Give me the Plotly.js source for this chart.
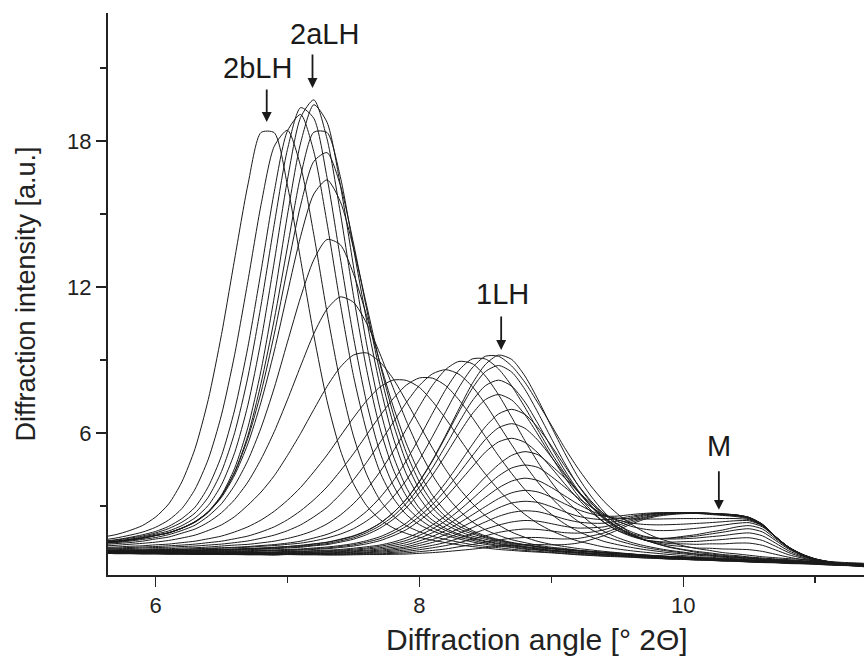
<!DOCTYPE html>
<html><head><meta charset="utf-8">
<script src="https://cdn.plot.ly/plotly-3.0.1.min.js"></script>
<style>html,body{margin:0;padding:0;background:#fff}#chart{width:864px;height:658px}</style>
</head><body><div id="chart"></div>
<script>
// Diffraction angle grid [deg 2Theta]
const angle = [5.6,5.7,5.8,5.9,6.0,6.1,6.2,6.3,6.4,6.5,6.6,6.7,6.8,6.9,7.0,7.1,7.2,7.3,7.4,7.5,7.6,7.7,7.8,7.9,8.0,8.1,8.2,8.3,8.4,8.5,8.6,8.7,8.8,8.9,9.0,9.1,9.2,9.3,9.4,9.5,9.6,9.7,9.8,9.9,10.0,10.1,10.2,10.3,10.4,10.5,10.6,10.7,10.8,10.9,11.0,11.1,11.2,11.3,11.4];

// 2bLH -> 2aLH stage
const scan01 = [1.72,1.82,1.98,2.19,2.54,3.08,3.99,5.36,7.37,10.04,13.15,16.19,18.35,18.34, 16.18,13.12,10.01,7.32,5.31,3.92,3.01,2.45,2.10,1.87, 1.71,1.59,1.49,1.40,1.33,1.27,1.21,1.17,1.13,1.10, 1.07,1.03,0.99,0.96,0.93,0.91,0.89,0.86,0.84,0.81, 0.80,0.77,0.76,0.73,0.72,0.69,0.67,0.66,0.63,0.62, 0.60,0.57,0.55,0.54,0.52];
const scan02 = [1.60,1.68,1.79,1.92,2.12,2.42,2.89,3.69,4.92,6.74,9.22,12.23,15.38,17.78, 18.44,16.96,14.15,10.95,8.11,5.88,4.30,3.25,2.60,2.19, 1.94,1.75,1.62,1.51,1.41,1.34,1.28,1.22,1.17,1.13, 1.09,1.05,1.01,0.98,0.95,0.93,0.90,0.87,0.85,0.82, 0.81,0.78,0.77,0.74,0.73,0.70,0.68,0.67,0.64,0.63, 0.61,0.58,0.56,0.55,0.53];
const scan03 = [1.55,1.61,1.70,1.81,1.95,2.16,2.48,2.95,3.79,5.06,6.95,9.52,12.65,15.91, 18.41,19.09,17.56,14.63,11.33,8.36,6.07,4.41,3.34,2.65, 2.23,1.97,1.78,1.64,1.52,1.42,1.35,1.29,1.22,1.18, 1.13,1.09,1.05,1.01,0.98,0.95,0.92,0.89,0.87,0.84, 0.82,0.80,0.78,0.75,0.74,0.71,0.69,0.68,0.65,0.64, 0.62,0.59,0.57,0.56,0.54];
const scan04 = [1.52,1.59,1.67,1.76,1.89,2.07,2.33,2.71,3.36,4.41,6.01,8.29,11.25,14.57, 17.65,19.37,18.93,16.50,13.21,9.96,7.25,5.23,3.87,2.98, 2.46,2.10,1.87,1.71,1.59,1.47,1.38,1.32,1.25,1.20, 1.15,1.11,1.07,1.03,1.00,0.97,0.94,0.91,0.88,0.85, 0.83,0.81,0.79,0.76,0.75,0.72,0.70,0.69,0.66,0.65, 0.63,0.60,0.58,0.57,0.55];
const scan05 = [1.51,1.56,1.63,1.72,1.84,1.97,2.19,2.51,3.02,3.87,5.19,7.14,9.80,13.03, 16.40,18.97,19.69,18.09,15.08,11.66,8.61,6.22,4.53,3.41, 2.71,2.27,1.99,1.79,1.65,1.53,1.43,1.36,1.29,1.23, 1.18,1.13,1.09,1.05,1.02,0.99,0.96,0.93,0.90,0.87, 0.85,0.82,0.80,0.77,0.76,0.73,0.71,0.70,0.67,0.66, 0.64,0.61,0.59,0.58,0.56];
const scan06 = [1.49,1.53,1.59,1.67,1.78,1.90,2.09,2.34,2.77,3.45,4.55,6.22,8.57,11.58, 14.95,17.92,19.49,18.77,16.22,12.87,9.66,7.03,5.09,3.77, 2.91,2.41,2.07,1.84,1.69,1.56,1.46,1.37,1.31,1.24, 1.18,1.14,1.10,1.06,1.02,0.99,0.96,0.93,0.90,0.87, 0.85,0.82,0.80,0.77,0.76,0.73,0.71,0.70,0.67,0.66, 0.64,0.61,0.59,0.58,0.56];
const scan07 = [1.48,1.52,1.59,1.67,1.78,1.89,2.08,2.33,2.73,3.41,4.40,5.89,8.04,10.66, 13.64,16.56,18.36,18.35,16.55,13.61,10.63,7.99,5.84,4.33, 3.34,2.64,2.23,1.96,1.76,1.63,1.51,1.41,1.33,1.27, 1.23,1.18,1.14,1.10,1.06,1.03,1.00,0.96,0.93,0.90, 0.88,0.85,0.83,0.80,0.78,0.75,0.73,0.72,0.69,0.68, 0.66,0.63,0.61,0.60,0.58];
const scan08 = [1.49,1.53,1.61,1.69,1.79,1.89,2.09,2.35,2.76,3.40,4.37,5.78,7.67,10.06, 12.76,15.36,17.16,17.52,16.20,13.81,11.10,8.53,6.42,4.81, 3.68,2.91,2.40,2.06,1.85,1.69,1.56,1.45,1.39,1.31, 1.25,1.20,1.16,1.12,1.08,1.05,1.02,0.98,0.95,0.92, 0.90,0.87,0.85,0.82,0.80,0.77,0.75,0.73,0.70,0.69, 0.67,0.64,0.62,0.61,0.59];
const scan09 = [1.49,1.54,1.60,1.67,1.78,1.90,2.08,2.36,2.75,3.35,4.27,5.55,7.27,9.36, 11.75,14.08,15.82,16.40,15.52,13.62,11.25,8.87,6.83,5.20, 3.99,3.13,2.55,2.17,1.92,1.73,1.59,1.48,1.40,1.32, 1.26,1.21,1.17,1.13,1.09,1.06,1.02,0.98,0.95,0.92, 0.90,0.87,0.85,0.82,0.80,0.77,0.75,0.73,0.70,0.69, 0.67,0.64,0.62,0.61,0.59];
const scan10 = [1.46,1.49,1.55,1.62,1.70,1.82,1.99,2.21,2.58,3.09,3.85,4.87,6.21,7.85, 9.73,11.58,13.12,13.95,13.74,12.55,10.82,8.92,7.12,5.58, 4.35,3.43,2.77,2.31,1.99,1.77,1.62,1.50,1.41,1.33, 1.26,1.21,1.16,1.12,1.08,1.05,1.01,0.97,0.94,0.91, 0.89,0.86,0.84,0.81,0.79,0.76,0.74,0.72,0.69,0.68, 0.66,0.63,0.61,0.60,0.58];

// transition 2aLH -> 1LH
const scan11 = [1.41,1.45,1.49,1.55,1.64,1.72,1.88,2.05,2.33,2.72,3.26,3.98,4.92,6.05, 7.36,8.75,10.08,11.09,11.59,11.37,10.51,9.27,7.87,6.51, 5.29,4.26,3.45,2.82,2.35,2.02,1.79,1.61,1.49,1.38, 1.30,1.25,1.18,1.13,1.08,1.04,1.01,0.96,0.93,0.90, 0.87,0.84,0.82,0.79,0.77,0.74,0.71,0.69,0.67,0.65, 0.62,0.60,0.57,0.56,0.53];
const scan12 = [1.35,1.38,1.42,1.46,1.51,1.58,1.68,1.80,1.99,2.22,2.56,3.03,3.57,4.24, 5.07,5.98,6.96,7.91,8.70,9.20,9.29,8.92,8.24,7.31, 6.34,5.37,4.49,3.73,3.11,2.60,2.22,1.92,1.71,1.54, 1.42,1.33,1.25,1.19,1.13,1.08,1.03,0.99,0.95,0.92, 0.89,0.86,0.84,0.81,0.79,0.76,0.73,0.71,0.69,0.67, 0.64,0.62,0.59,0.58,0.55];
const scan13 = [1.29,1.31,1.34,1.36,1.40,1.43,1.49,1.55,1.65,1.76,1.93,2.14,2.42,2.78, 3.23,3.76,4.40,5.09,5.86,6.62,7.32,7.88,8.17,8.16, 7.87,7.29,6.58,5.80,5.02,4.31,3.66,3.11,2.65,2.27, 1.98,1.75,1.56,1.43,1.31,1.23,1.16,1.10,1.05,1.00, 0.96,0.91,0.89,0.85,0.83,0.79,0.76,0.74,0.71,0.69, 0.66,0.63,0.60,0.59,0.56];
const scan14 = [1.26,1.27,1.29,1.31,1.33,1.36,1.39,1.43,1.49,1.55,1.65,1.76,1.93,2.14, 2.43,2.80,3.25,3.78,4.43,5.14,5.92,6.69,7.40,7.96, 8.26,8.25,7.94,7.36,6.64,5.85,5.06,4.33,3.67,3.12, 2.66,2.27,1.96,1.73,1.54,1.41,1.30,1.21,1.14,1.07, 1.03,0.97,0.94,0.89,0.86,0.82,0.79,0.76,0.73,0.71, 0.68,0.65,0.62,0.60,0.57];
const scan15 = [1.24,1.24,1.25,1.27,1.29,1.30,1.33,1.35,1.39,1.43,1.49,1.56,1.67,1.80, 1.98,2.22,2.55,2.94,3.47,4.07,4.79,5.59,6.42,7.24, 7.95,8.43,8.60,8.41,7.91,7.19,6.35,5.51,4.69,3.96, 3.34,2.80,2.38,2.04,1.77,1.58,1.43,1.30,1.21,1.13, 1.07,1.01,0.97,0.92,0.89,0.85,0.80,0.78,0.75,0.72, 0.69,0.66,0.63,0.61,0.58];
const scan16 = [1.20,1.20,1.22,1.22,1.24,1.24,1.27,1.28,1.31,1.35,1.39,1.42,1.48,1.55, 1.66,1.80,1.99,2.26,2.62,3.09,3.68,4.39,5.23,6.14, 7.09,7.96,8.61,8.94,8.85,8.34,7.57,6.64,5.68,4.78, 3.98,3.30,2.76,2.30,1.95,1.70,1.51,1.37,1.26,1.17, 1.10,1.03,0.99,0.93,0.89,0.85,0.81,0.78,0.74,0.72, 0.69,0.66,0.63,0.61,0.58];
const scan17 = [1.18,1.18,1.19,1.19,1.21,1.21,1.22,1.24,1.26,1.28,1.30,1.33,1.37,1.41, 1.47,1.55,1.68,1.83,2.05,2.36,2.78,3.33,4.01,4.85, 5.80,6.81,7.79,8.58,9.04,9.04,8.63,7.93,7.05,6.11, 5.18,4.35,3.62,3.02,2.52,2.13,1.84,1.61,1.45,1.31, 1.21,1.13,1.07,1.00,0.96,0.90,0.86,0.82,0.79,0.75, 0.73,0.69,0.65,0.63,0.61];
const scan18 = [1.17,1.17,1.18,1.18,1.20,1.20,1.21,1.22,1.24,1.26,1.28,1.30,1.34,1.37, 1.42,1.47,1.56,1.68,1.84,2.06,2.38,2.80,3.36,4.05, 4.90,5.86,6.88,7.87,8.67,9.15,9.15,8.75,8.08,7.22, 6.32,5.40,4.56,3.82,3.18,2.68,2.27,1.94,1.69,1.52, 1.36,1.25,1.17,1.08,1.03,0.97,0.91,0.87,0.83,0.80, 0.75,0.72,0.68,0.66,0.63];
const scan19 = [1.15,1.15,1.16,1.16,1.17,1.17,1.18,1.18,1.20,1.21,1.23,1.25,1.27,1.30, 1.33,1.38,1.44,1.51,1.63,1.77,1.98,2.28,2.71,3.27, 4.01,4.89,5.91,6.99,8.02,8.81,9.20,9.02,8.34,7.36, 6.26,5.19,4.21,3.41,2.75,2.26,1.89,1.62,1.44,1.29, 1.19,1.09,1.03,0.97,0.92,0.88,0.83,0.80,0.76,0.73, 0.70,0.66,0.63,0.61,0.58];

// 1LH -> M stage
const scan20 = [1.15,1.15,1.16,1.15,1.16,1.16,1.18,1.18,1.20,1.20,1.22,1.24,1.26,1.29, 1.33,1.36,1.43,1.50,1.61,1.75,1.97,2.28,2.71,3.27, 3.99,4.86,5.85,6.87,7.82,8.52,8.77,8.50,7.79,6.82, 5.78,4.77,3.87,3.15,2.56,2.14,1.82,1.61,1.48,1.38, 1.33,1.27,1.26,1.23,1.22,1.20,1.13,1.01,0.89,0.80, 0.74,0.67,0.63,0.61,0.58];
const scan21 = [1.14,1.14,1.15,1.14,1.15,1.15,1.16,1.17,1.18,1.19,1.20,1.22,1.24,1.26, 1.30,1.33,1.39,1.45,1.56,1.69,1.90,2.18,2.57,3.10, 3.77,4.57,5.48,6.43,7.31,7.94,8.17,7.92,7.27,6.37, 5.41,4.48,3.66,2.99,2.45,2.07,1.80,1.61,1.52,1.45, 1.44,1.42,1.44,1.44,1.47,1.47,1.38,1.19,0.99,0.86, 0.75,0.69,0.64,0.61,0.58];
const scan22 = [1.13,1.13,1.14,1.13,1.14,1.14,1.15,1.15,1.17,1.17,1.18,1.20,1.22,1.24, 1.27,1.30,1.36,1.41,1.51,1.63,1.82,2.08,2.44,2.92, 3.54,4.27,5.10,5.97,6.78,7.37,7.58,7.35,6.75,5.92, 5.03,4.19,3.44,2.83,2.33,1.99,1.76,1.61,1.54,1.51, 1.53,1.54,1.58,1.62,1.67,1.69,1.58,1.34,1.08,0.90, 0.78,0.69,0.64,0.60,0.57];
const scan23 = [1.12,1.11,1.12,1.12,1.12,1.12,1.13,1.13,1.14,1.14,1.15,1.16,1.18,1.19, 1.21,1.23,1.27,1.31,1.37,1.45,1.57,1.73,1.97,2.29, 2.75,3.29,3.96,4.72,5.51,6.25,6.78,6.97,6.76,6.21, 5.47,4.66,3.88,3.21,2.66,2.23,1.95,1.76,1.67,1.64, 1.65,1.68,1.73,1.78,1.85,1.89,1.77,1.47,1.15,0.94, 0.80,0.71,0.64,0.61,0.57];
const scan24 = [1.11,1.10,1.11,1.11,1.11,1.11,1.11,1.12,1.13,1.13,1.14,1.14,1.16,1.17, 1.19,1.21,1.24,1.27,1.33,1.40,1.51,1.65,1.87,2.16, 2.57,3.06,3.66,4.34,5.05,5.73,6.21,6.38,6.19,5.69, 5.01,4.29,3.59,2.99,2.49,2.12,1.88,1.73,1.67,1.67, 1.71,1.76,1.84,1.92,2.01,2.06,1.93,1.58,1.22,0.98, 0.82,0.71,0.63,0.60,0.56];
const scan25 = [1.10,1.10,1.10,1.10,1.10,1.10,1.10,1.10,1.11,1.11,1.12,1.12,1.14,1.15, 1.17,1.18,1.21,1.24,1.29,1.35,1.44,1.57,1.77,2.02, 2.39,2.83,3.36,3.97,4.60,5.21,5.63,5.78,5.61,5.17, 4.57,3.92,3.30,2.76,2.32,2.00,1.80,1.68,1.65,1.68, 1.75,1.82,1.92,2.01,2.13,2.19,2.05,1.65,1.26,0.99, 0.82,0.70,0.63,0.60,0.55];
const scan26 = [1.09,1.09,1.09,1.08,1.09,1.08,1.09,1.08,1.09,1.09,1.10,1.10,1.10,1.11, 1.13,1.14,1.16,1.18,1.21,1.26,1.32,1.39,1.51,1.68, 1.91,2.22,2.60,3.08,3.62,4.19,4.70,5.08,5.23,5.10, 4.66,4.16,3.61,3.11,2.68,2.38,2.17,2.05,1.99,1.99, 2.03,2.08,2.14,2.21,2.28,2.31,2.14,1.72,1.30,1.02, 0.83,0.71,0.63,0.59,0.55];
const scan27 = [1.09,1.08,1.08,1.08,1.08,1.07,1.08,1.07,1.08,1.08,1.08,1.08,1.09,1.09, 1.12,1.12,1.14,1.15,1.18,1.22,1.27,1.34,1.44,1.58, 1.79,2.06,2.39,2.81,3.28,3.77,4.23,4.56,4.68,4.58, 4.21,3.78,3.34,2.96,2.63,2.43,2.30,2.24,2.22,2.23, 2.25,2.28,2.31,2.35,2.39,2.39,2.18,1.73,1.30,1.02, 0.82,0.71,0.63,0.58,0.55];
const scan28 = [1.08,1.07,1.07,1.07,1.07,1.06,1.07,1.06,1.07,1.06,1.07,1.07,1.07,1.08, 1.10,1.10,1.11,1.12,1.15,1.18,1.23,1.28,1.37,1.49, 1.67,1.90,2.18,2.53,2.93,3.35,3.74,4.02,4.14,4.04, 3.76,3.42,3.08,2.80,2.59,2.50,2.47,2.46,2.46,2.47, 2.48,2.48,2.49,2.48,2.48,2.43,2.20,1.73,1.30,1.01, 0.81,0.69,0.62,0.57,0.54];
const scan29 = [1.07,1.07,1.07,1.06,1.06,1.06,1.06,1.05,1.06,1.05,1.06,1.05,1.06,1.06, 1.08,1.08,1.09,1.10,1.12,1.15,1.18,1.23,1.30,1.40, 1.56,1.75,1.99,2.29,2.63,2.97,3.30,3.54,3.64,3.57, 3.36,3.09,2.85,2.68,2.58,2.58,2.64,2.69,2.72,2.72, 2.70,2.69,2.65,2.61,2.56,2.46,2.19,1.71,1.29,1.00, 0.81,0.69,0.61,0.57,0.53];
const scan30 = [1.07,1.06,1.06,1.05,1.06,1.05,1.05,1.04,1.05,1.04,1.05,1.04,1.05,1.04, 1.06,1.06,1.07,1.07,1.09,1.12,1.15,1.18,1.24,1.32, 1.46,1.62,1.82,2.07,2.35,2.64,2.92,3.12,3.19,3.14, 2.97,2.76,2.58,2.48,2.43,2.48,2.57,2.65,2.70,2.72, 2.72,2.71,2.67,2.63,2.59,2.49,2.21,1.72,1.30,1.00, 0.81,0.68,0.61,0.56,0.52];
const scan31 = [1.06,1.05,1.05,1.05,1.05,1.04,1.04,1.04,1.04,1.03,1.04,1.03,1.03,1.03, 1.05,1.04,1.05,1.05,1.07,1.09,1.11,1.14,1.19,1.26, 1.37,1.50,1.66,1.87,2.10,2.34,2.57,2.73,2.80,2.76, 2.62,2.46,2.34,2.29,2.29,2.38,2.51,2.62,2.69,2.71, 2.72,2.72,2.69,2.65,2.61,2.50,2.23,1.73,1.29,1.00, 0.80,0.68,0.60,0.56,0.51];
const scan32 = [1.06,1.05,1.05,1.04,1.04,1.04,1.04,1.03,1.03,1.02,1.03,1.02,1.02,1.02, 1.03,1.03,1.04,1.03,1.05,1.06,1.08,1.10,1.14,1.19, 1.28,1.38,1.50,1.67,1.85,2.04,2.21,2.34,2.40,2.37, 2.27,2.16,2.09,2.10,2.14,2.28,2.44,2.58,2.66,2.70, 2.72,2.72,2.70,2.66,2.63,2.52,2.24,1.74,1.30,0.99, 0.80,0.67,0.59,0.55,0.51];
const scan33 = [1.05,1.04,1.04,1.04,1.04,1.03,1.03,1.02,1.02,1.02,1.02,1.01,1.01,1.01, 1.02,1.01,1.02,1.02,1.02,1.04,1.05,1.06,1.09,1.13, 1.20,1.28,1.37,1.49,1.63,1.77,1.91,2.00,2.05,2.03, 1.97,1.90,1.88,1.92,2.02,2.19,2.38,2.53,2.63,2.68, 2.71,2.72,2.69,2.67,2.63,2.52,2.24,1.74,1.29,0.99, 0.79,0.67,0.58,0.54,0.50];
const scan34 = [1.05,1.04,1.04,1.03,1.03,1.02,1.02,1.01,1.01,1.01,1.01,1.00,1.00,0.99, 1.01,1.00,1.00,1.00,1.00,1.01,1.02,1.03,1.05,1.07, 1.12,1.17,1.23,1.32,1.41,1.51,1.60,1.67,1.70,1.70, 1.66,1.64,1.66,1.76,1.89,2.09,2.31,2.49,2.61,2.67, 2.70,2.71,2.69,2.67,2.63,2.53,2.25,1.73,1.29,0.98, 0.78,0.66,0.58,0.53,0.49];
const scan35 = [1.05,1.04,1.04,1.03,1.03,1.02,1.02,1.01,1.01,1.00,1.00,0.99,0.99,0.98, 1.00,0.99,0.99,0.98,0.98,0.99,1.00,1.00,1.01,1.02, 1.05,1.08,1.12,1.17,1.22,1.28,1.34,1.38,1.40,1.41, 1.40,1.41,1.47,1.61,1.78,2.00,2.24,2.44,2.57,2.64, 2.68,2.69,2.68,2.65,2.62,2.52,2.24,1.72,1.28,0.97, 0.77,0.65,0.57,0.53,0.49];

const scans = [scan01,scan02,scan03,scan04,scan05,scan06,scan07,scan08,scan09,scan10,
  scan11,scan12,scan13,scan14,scan15,scan16,scan17,scan18,scan19,
  scan20,scan21,scan22,scan23,scan24,scan25,scan26,scan27,scan28,scan29,scan30,scan31,scan32,scan33,scan34,scan35];

// Peak labels
const peakLabels = ['2bLH','2aLH','1LH','M'];
const labelX = [6.77, 7.28, 8.63, 10.27];
const labelY = [21.0, 22.4, 11.71, 5.47];
const arrowX = [6.843, 7.19, 8.62, 10.27];
const arrowY = [18.78, 20.18, 9.41, 2.84];
const arrowLen = [-34, -35, -35, -40];

const xTitle = 'Diffraction angle [° 2Θ]';
const yTitle = 'Diffraction intensity [a.u.]';

const traces = scans.map(s => ({
  x: angle, y: s, type: 'scatter', mode: 'lines',
  line: {color: '#1a1a1a', width: 1, shape: 'spline', smoothing: 0.7},
  hoverinfo: 'skip', showlegend: false
}));

const annotations = [];
peakLabels.forEach((t, i) => {
  annotations.push({x: labelX[i], y: labelY[i], xref: 'x', yref: 'y', text: t, showarrow: false,
    font: {size: 29, color: '#1a1a1a'}, xanchor: 'center', yanchor: 'middle'});
  annotations.push({x: arrowX[i], y: arrowY[i], xref: 'x', yref: 'y', text: '', showarrow: true,
    ax: 0, ay: arrowLen[i], arrowhead: 2, arrowsize: 1.1, arrowwidth: 1.8, arrowcolor: '#1a1a1a'});
});
// x-axis title (the original axis runs past the right edge, so its title sits right of the visible centre)
annotations.push({x: 0.5675, y: -0.114, xref: 'paper', yref: 'paper', text: xTitle, showarrow: false,
  font: {size: 30, color: '#222'}, xanchor: 'center', yanchor: 'middle'});

const axisCommon = {
  showline: true, linecolor: '#222', linewidth: 2, ticks: 'outside', ticklen: 10, tickwidth: 1.5,
  tickcolor: '#222', showgrid: false, zeroline: false, tickfont: {size: 22, color: '#222'}
};

const layout = {
  width: 864, height: 658,
  margin: {l: 108, r: 0, t: 13, b: 83},
  paper_bgcolor: '#fff', plot_bgcolor: '#fff',
  font: {family: 'Liberation Sans, Arial, sans-serif', color: '#222'},
  showlegend: false,
  xaxis: Object.assign({}, axisCommon, {
    range: [5.64, 11.37], tick0: 6, dtick: 2,
    minor: {ticks: 'outside', dtick: 1, ticklen: 6, tickwidth: 1.5, tickcolor: '#222'}
  }),
  yaxis: Object.assign({}, axisCommon, {
    range: [0.16, 23.26], tick0: 0, dtick: 6,
    minor: {ticks: 'outside', dtick: 3, ticklen: 6, tickwidth: 1.5, tickcolor: '#222'},
    title: {text: yTitle, font: {size: 27, color: '#222'}, standoff: 24}
  }),
  annotations: annotations
};

Plotly.newPlot('chart', traces, layout, {staticPlot: true, displayModeBar: false});
</script>
</body></html>
